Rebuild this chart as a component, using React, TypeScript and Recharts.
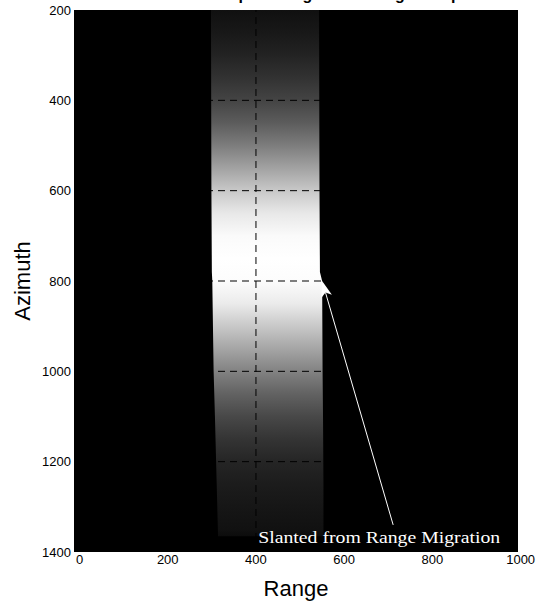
import React from 'react';
import { ComposedChart, Area, XAxis, YAxis, ReferenceLine, ReferenceArea, ReferenceDot } from 'recharts';

// Axis limits (image extent)
const rangeLimits = [-12.5, 994];
const azimuthLimits = [200, 1400];

// Band edges (range units) at azimuth rows
const edgeAzimuth = [200, 600, 780, 800, 1000, 1100, 1250, 1365];
const edgeLeft = [298, 299, 300, 301, 304, 307, 311, 314];
const edgeRight = [543, 544, 545, 550, 551, 552, 553, 553];

// Brightness profile (0-255) along azimuth
const profileAzimuth = [200, 250, 300, 350, 400, 450, 500, 550, 600, 650, 700, 750, 800, 850, 900, 950, 1000, 1050, 1100, 1150, 1200, 1250, 1300, 1350, 1365];
const profileLevel = [16, 24, 35, 50, 68, 92, 125, 162, 200, 232, 250, 255, 252, 235, 200, 165, 130, 98, 72, 52, 37, 28, 22, 17, 12];

const xTicks = [0, 200, 400, 600, 800, 1000];
const yTicks = [200, 400, 600, 800, 1000, 1200, 1400];
const gridX = [200, 400, 600, 800];
const gridY = [400, 600, 800, 1000, 1200];

const arrowTail = { x: 711, y: 1340 };
const arrowTip = { x: 550, y: 800 };
const noteAt = { x: 405, y: 1380 };
const noteText = 'Slanted from Range Migration';
const titleText = 'Azimuth FFT of the simulated point target after range compression';

const data = edgeAzimuth.map((az, i) => ({ az, band: [edgeLeft[i], edgeRight[i]] }));

const azMin = edgeAzimuth[0];
const azMax = edgeAzimuth[edgeAzimuth.length - 1];

const ArrowShape = (props: any) => {
  const { x1, y1, x2, y2 } = props;
  if (x1 == null) return null;
  const dx = x2 - x1;
  const dy = y2 - y1;
  const len = Math.sqrt(dx * dx + dy * dy);
  const ux = dx / len;
  const uy = dy / len;
  const px = -uy;
  const py = ux;
  const hl = 16;
  const hw = 5.5;
  const bx = x2 - ux * hl;
  const by = y2 - uy * hl;
  const mx = x2 - ux * hl * 0.75;
  const my = y2 - uy * hl * 0.75;
  return (
    <g>
      <line x1={x1} y1={y1} x2={mx} y2={my} stroke="#fff" strokeWidth={1} />
      <polygon
        points={`${x2},${y2} ${bx + px * hw},${by + py * hw} ${mx},${my} ${bx - px * hw},${by - py * hw}`}
        fill="#fff"
      />
    </g>
  );
};

const NoteShape = (props: any) => {
  const { cx, cy } = props;
  if (cx == null) return null;
  return (
    <text x={cx} y={cy} fill="#fff" fontFamily="'Liberation Serif', 'DejaVu Serif', serif" fontSize={16} textLength={242} lengthAdjust="spacingAndGlyphs">
      {noteText}
    </text>
  );
};

export default function App() {
  return (
    <div style={{ position: 'absolute', left: 0, top: 0, width: 542, height: 601, background: '#fff', overflow: 'hidden' }}>
      <div
        style={{
          position: 'absolute',
          top: -13,
          left: 10,
          width: 527,
          fontFamily: "'Liberation Sans', Arial, sans-serif",
          fontWeight: 'bold',
          fontSize: 16,
          lineHeight: '16px',
          whiteSpace: 'nowrap',
          color: '#000',
        }}
      >
        {titleText}
      </div>
      <ComposedChart
        width={542}
        height={601}
        data={data}
        layout="vertical"
        margin={{ top: 10, right: 24, bottom: 0, left: 0 }}
      >
        <defs>
          <linearGradient id="bandGrad" x1="0" y1="0" x2="0" y2="1">
            {profileAzimuth.map((a, i) => (
              <stop
                key={a}
                offset={(a - azMin) / (azMax - azMin)}
                stopColor={`rgb(${profileLevel[i]},${profileLevel[i]},${profileLevel[i]})`}
              />
            ))}
          </linearGradient>
        </defs>
        <XAxis
          type="number"
          domain={rangeLimits}
          ticks={xTicks}
          interval={0}
          allowDataOverflow
          axisLine={false}
          tickLine={false}
          tickSize={0}
          tickMargin={3}
          height={49}
          tick={{ fill: '#000', fontSize: 13, fontFamily: "'Liberation Sans', Arial, sans-serif" }}
          label={{ value: 'Range', position: 'insideBottom', offset: 5, fill: '#000', fontSize: 22, fontFamily: "'Liberation Sans', Arial, sans-serif" }}
        />
        <YAxis
          type="number"
          dataKey="az"
          domain={azimuthLimits}
          ticks={yTicks}
          interval={0}
          allowDataOverflow
          axisLine={false}
          tickLine={false}
          tickSize={0}
          tickMargin={3}
          width={74}
          tick={{ fill: '#000', fontSize: 13, fontFamily: "'Liberation Sans', Arial, sans-serif" }}
          label={{ value: 'Azimuth', angle: -90, position: 'insideLeft', offset: 22, fill: '#000', fontSize: 22, fontFamily: "'Liberation Sans', Arial, sans-serif", style: { textAnchor: 'middle' } }}
        />
        <ReferenceArea x1={rangeLimits[0]} x2={rangeLimits[1]} y1={azimuthLimits[0]} y2={azimuthLimits[1]} fill="#000" fillOpacity={1} stroke="none" />
        <Area
          dataKey="band"
          type="linear"
          stroke="none"
          fill="url(#bandGrad)"
          fillOpacity={1}
          isAnimationActive={false}
          dot={false}
          activeDot={false}
        />
        {gridX.map((x) => (
          <ReferenceLine key={`gx${x}`} x={x} stroke="#000" strokeDasharray="7 5" strokeWidth={1} />
        ))}
        {gridY.map((y) => (
          <ReferenceLine key={`gy${y}`} y={y} stroke="#000" strokeDasharray="7 5" strokeWidth={1} />
        ))}
        <ReferenceLine segment={[arrowTail, arrowTip]} shape={ArrowShape} stroke="#fff" />
        <ReferenceDot x={noteAt.x} y={noteAt.y} r={0} shape={NoteShape} />
      </ComposedChart>
    </div>
  );
}
